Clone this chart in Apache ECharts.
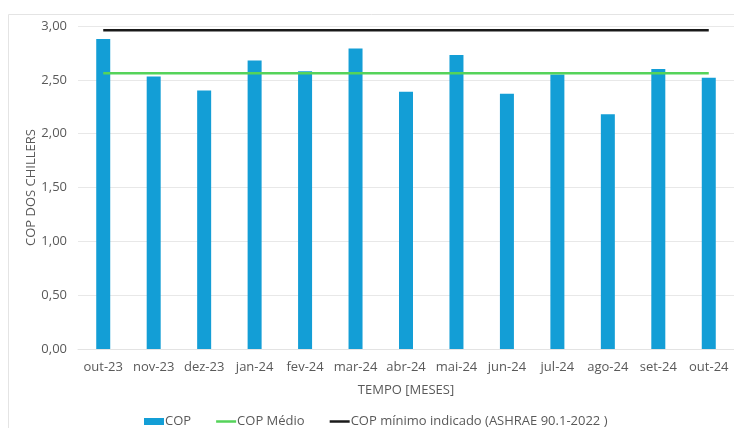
<!DOCTYPE html>
<html><head><meta charset="utf-8">
<script src="https://cdn.jsdelivr.net/npm/echarts@6/dist/echarts.min.js"></script>
<style>html,body{margin:0;padding:0;background:#fff}#c{width:734px;height:428px}</style>
</head><body><div id="c"></div>
<script>
const categories = ['out-23','nov-23','dez-23','jan-24','fev-24','mar-24','abr-24','mai-24','jun-24','jul-24','ago-24','set-24','out-24'];
const copValues = [2.88,2.53,2.40,2.68,2.58,2.79,2.39,2.73,2.37,2.55,2.18,2.60,2.52];
const copMedio = [2.56,2.56,2.56,2.56,2.56,2.56,2.56,2.56,2.56,2.56,2.56,2.56,2.56];
const copMinimo = [2.96,2.96,2.96,2.96,2.96,2.96,2.96,2.96,2.96,2.96,2.96,2.96,2.96];
const yTicks = [0,0.5,1,1.5,2,2.5,3];

const font = 'Open Sans';
const txt = '#595959';
const lineIcon = 'path://M0,0H20V2.5H0Z';
const chart = echarts.init(document.getElementById('c'), null, {renderer:'canvas'});
chart.setOption({
  animation:false,
  backgroundColor:'#fff',
  textStyle:{fontFamily:font,color:txt},
  graphic:[{type:'rect',shape:{x:8.5,y:14.5,width:740,height:420},style:{fill:'none',stroke:'#e4e4e4',lineWidth:1},silent:true,z:-10}],
  grid:{left:78,right:0,top:26,bottom:79,containLabel:false},
  legend:{
    top:410,left:139,itemGap:25,itemHeight:7,itemWidth:20,
    textStyle:{fontFamily:font,fontSize:13,color:txt,padding:[0,0,0,-4]},
    data:[{name:'COP',icon:'rect'},{name:'COP Médio',icon:lineIcon},{name:'COP mínimo indicado (ASHRAE 90.1-2022 )',icon:lineIcon}]
  },
  xAxis:{
    type:'category',data:categories,
    name:'TEMPO [MESES]',nameLocation:'middle',nameGap:35,
    nameTextStyle:{fontFamily:font,fontSize:13,color:txt},
    axisLine:{show:true,lineStyle:{color:'#e3e3e3'}},axisTick:{show:false},
    axisLabel:{fontFamily:font,fontSize:13,color:txt,margin:12,interval:0}
  },
  yAxis:{
    type:'value',min:0,max:3,interval:0.5,
    name:'COP DOS CHILLERS',nameLocation:'middle',nameGap:40,nameRotate:90,nameMoveOverlap:false,
    nameTextStyle:{fontFamily:font,fontSize:13,color:txt},
    axisLine:{show:false},axisTick:{show:false},
    splitLine:{lineStyle:{color:'#e8e8e8'}},
    axisLabel:{fontFamily:font,fontSize:13,color:txt,margin:11,
      formatter:v=>v.toFixed(2).replace('.',',')}
  },
  series:[
    {name:'COP',type:'bar',data:copValues,barWidth:14,itemStyle:{color:'#139ed6'}},
    {name:'COP Médio',type:'line',data:copMedio,symbol:'none',lineStyle:{color:'#55d35a',width:2.5},itemStyle:{color:'#55d35a'},z:5},
    {name:'COP mínimo indicado (ASHRAE 90.1-2022 )',type:'line',data:copMinimo,symbol:'none',lineStyle:{color:'#1a1a1a',width:2.5},itemStyle:{color:'#1a1a1a'},z:5}
  ]
});
</script></body></html>
